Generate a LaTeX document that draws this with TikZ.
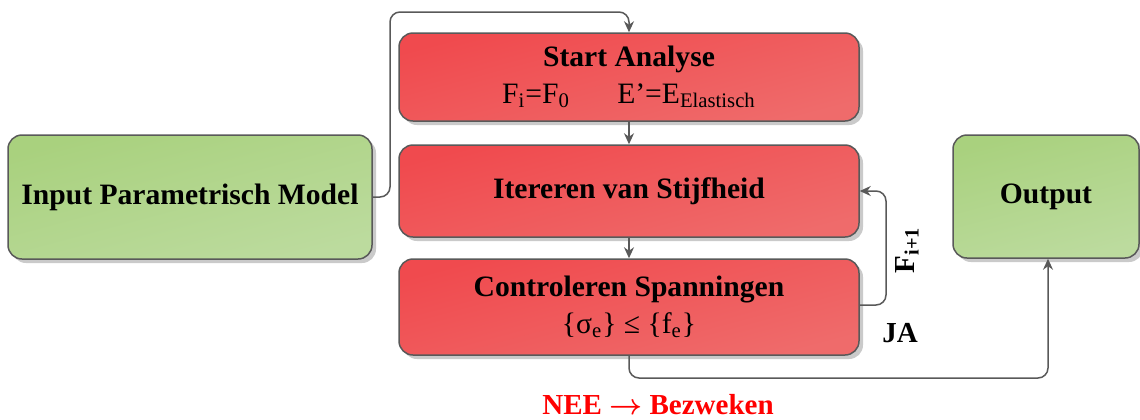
\documentclass[tikz,border=0pt]{standalone}
\usepackage{fontspec}
\setmainfont{Liberation Serif}
\usetikzlibrary{shadows,arrows.meta}
\definecolor{redA}{HTML}{F04A4E}
\definecolor{redB}{HTML}{EF6B6B}
\definecolor{grnA}{HTML}{A9D17E}
\definecolor{grnB}{HTML}{BCDB9E}
\definecolor{edgegray}{HTML}{595959}
\tikzset{
  box/.style={draw=edgegray, line width=0.75pt, rounded corners=7pt, inner sep=0pt,
    drop shadow={shadow xshift=2pt, shadow yshift=-2pt, fill=black!35, opacity=0.6},
    font=\fontsize{14.8}{18.5}\selectfont, align=center},
  redbox/.style={box, top color=redA, bottom color=redB, shading angle=15, minimum width=230pt},
  grnbox/.style={box, top color=grnA, bottom color=grnB, shading angle=15},
  conn/.style={draw=edgegray, line width=0.75pt, rounded corners=5pt,
    -{Stealth[length=5.5pt,width=5pt]}},
  lbl/.style={font=\fontsize{14.5}{17}\selectfont\bfseries, inner sep=0pt}
}
\begin{document}
\begin{tikzpicture}[x=0.5pt,y=-0.5pt]
\useasboundingbox (0,0) rectangle (1140,419);
\node[redbox, minimum height=44pt] (start) at (629,77)
  {\textbf{Start Analyse}\\F\textsubscript{i}=F\textsubscript{0}\hspace{1.6em}E’=E\textsubscript{Elastisch}};
\node[redbox, minimum height=46pt] (iter) at (629,191) {\textbf{Itereren van Stijfheid}};
\node[redbox, minimum height=48pt] (contr) at (629,307)
  {\textbf{Controleren Spanningen}\\\{σ\textsubscript{e}\} ≤ \{f\textsubscript{e}\}};
\node[grnbox, minimum width=182pt, minimum height=62pt] (in) at (190,197) {\textbf{Input Parametrisch Model}};
\node[grnbox, minimum width=93pt, minimum height=61.5pt] (out) at (1046,196.5) {\textbf{Output}};
\coordinate (a1) at (390,197);
\coordinate (a2) at (390,12);
\coordinate (a3) at (629,12);
\coordinate (b1) at (886,305);
\coordinate (b2) at (886,191);
\coordinate (c1) at (629,378);
\coordinate (c2) at (1048,378);
\draw[conn] (in.east) -- (a1) -- (a2) -- (a3) -- (start.north);
\draw[conn] (start.south) -- (iter.north);
\draw[conn] (iter.south) -- (contr.north);
\draw[conn] (contr.east |- b1) -- (b1) -- (b2) -- (iter.east);
\draw[conn] (contr.south) -- (c1) -- (c2) -- (out.south -| c2);
\node[lbl, rotate=90] (fi) at (907,250) {F\textsubscript{i+1}};
\node[lbl] (ja) at (900,333) {JA};
\node[lbl, text=red] (nee) at (658,405) {NEE {\boldmath$\rightarrow$} Bezweken};
\end{tikzpicture}
\end{document}
